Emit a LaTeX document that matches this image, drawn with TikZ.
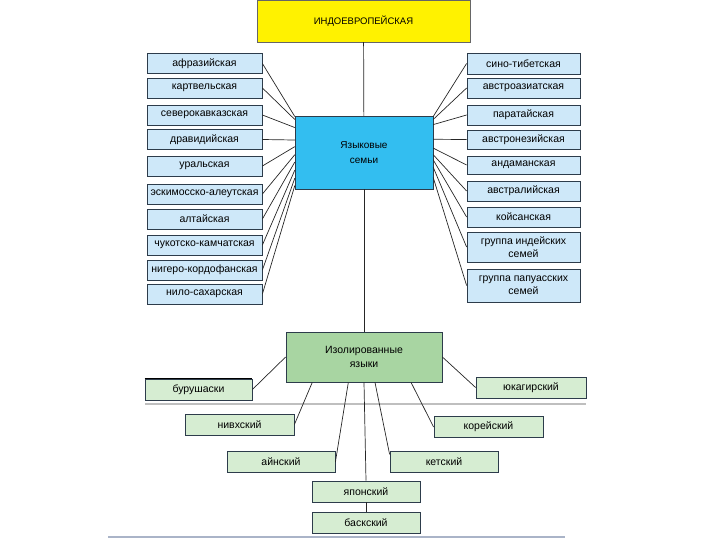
\documentclass[tikz,border=0pt]{standalone}
\usepackage{fontspec}
\setmainfont{Liberation Sans}
\usetikzlibrary{calc}
\definecolor{topyellow}{RGB}{255,242,0}
\definecolor{famblue}{RGB}{51,190,240}
\definecolor{paleblue}{RGB}{206,232,249}
\definecolor{isogreen}{RGB}{168,213,162}
\definecolor{palegreen}{RGB}{214,237,210}
\definecolor{boxline}{RGB}{45,60,75}
\definecolor{footgray}{RGB}{170,180,200}
\tikzset{
  famline/.style={draw=black!85, line width=0.7pt},
  sidebox/.style={draw=boxline, line width=0.8pt, fill=paleblue, inner sep=1pt,
    minimum height=20pt, align=center, font=\fontsize{10.5}{13}\selectfont},
  isobox/.style={draw=boxline, line width=0.8pt, fill=palegreen, inner sep=1pt,
    minimum width=108pt, minimum height=21pt, font=\fontsize{10.5}{13}\selectfont}
}
\begin{document}
\begin{tikzpicture}[x=1pt,y=-1pt]
  \useasboundingbox (0,0) rectangle (720,540);
  % top and central boxes
  \node[draw=black!60, fill=topyellow, minimum width=213pt, minimum height=42pt,
    font=\fontsize{9.5}{11}\selectfont] (indo) at (363.5,21) {ИНДОЕВРОПЕЙСКАЯ};
  \node[draw=boxline, fill=famblue, minimum width=138pt, minimum height=73pt, align=center,
    font=\fontsize{10}{15}\selectfont] (fam) at (364,152.5) {Языковые\\семьи};
  \node[draw=boxline, line width=0.8pt, fill=isogreen, minimum width=156pt, minimum height=50pt,
    align=center, font=\fontsize{10.5}{14}\selectfont] (iso) at (364,357) {Изолированные\\языки};
  \draw[famline] (indo) -- (fam);
  \draw[famline] (fam) -- (iso);
  % left families
  \foreach \i/\y/\t in {1/63.5/афразийская, 2/88/картвельская, 3/115/северокавказская,
      4/139.5/дравидийская, 5/166/уральская, 6/194/эскимосско-алеутская, 7/219/алтайская,
      8/245/чукотско-камчатская, 9/270/нигеро-кордофанская, 10/294/нило-сахарская}
    \node[sidebox, minimum width=115pt] (l\i) at (204.5,\y) {\t};
  \foreach \i/\f in {1/0.01, 2/0.05, 3/0.16, 4/0.33, 5/0.42, 6/0.53, 7/0.63, 8/0.74, 9/0.85, 10/0.95}
    \draw[famline] (l\i.east) -- ($(fam.north west)!\f!(fam.south west)$);
  % right families
  \foreach \i/\y/\h/\t in {1/63.5/21/сино-тибетская, 2/88/20/австроазиатская, 3/115/20/паратайская,
      4/139.5/19/австронезийская, 5/165/18/андаманская, 6/191/20/австралийская, 7/217/20/койсанская,
      8/247/30/{группа индейских\\семей}, 9/285.5/33/{группа папуасских\\семей}}
    \node[sidebox, minimum width=113pt, minimum height=\h pt] (r\i) at (523.5,\y) {\t};
  \foreach \i/\f in {1/0.01, 2/0.05, 3/0.12, 4/0.32, 5/0.44, 6/0.53, 7/0.60, 8/0.70, 9/0.84}
    \draw[famline] ($(fam.north east)!\f!(fam.south east)$) -- (r\i.west);
  % isolated languages
  \draw[black!25, line width=1.2pt] (145,404) -- (586,404);
  \node[isobox, minimum width=107pt] (bur) at (198.5,389.5) {бурушаски};
  \draw[black, line width=1.6pt] (bur.north west) -- (bur.north east);
  \node[isobox, minimum width=110pt] (yuk) at (531,387.5) {юкагирский};
  \node[isobox, minimum width=109pt] (niv) at (239.5,424.5) {нивхский};
  \node[isobox, minimum width=109pt] (kor) at (488.5,427) {корейский};
  \node[isobox] (ain) at (281,462) {айнский};
  \node[isobox] (ket) at (444,462) {кетский};
  \node[isobox] (jap) at (366,491.5) {японский};
  \node[isobox] (bas) at (366,522.5) {баскский};
  \draw[famline] (bur.east) -- (iso.west);
  \draw[famline] (iso.east) -- (yuk.west);
  \draw[famline] (niv.east) -- ($(iso.south west)!0.17!(iso.south east)$);
  \draw[famline] ($(iso.south west)!0.80!(iso.south east)$) -- (kor.west);
  \draw[famline] ($(iso.south west)!0.40!(iso.south east)$) -- (ain.east);
  \draw[famline] ($(iso.south west)!0.57!(iso.south east)$) -- ($(ket.north west)!0.15!(ket.south west)$);
  \draw[famline] (iso.south) -- (jap.north);
  \draw[famline] (jap.south) -- (bas.north);
  \draw[footgray, line width=2pt] (108,537) -- (565,537);
\end{tikzpicture}
\end{document}
